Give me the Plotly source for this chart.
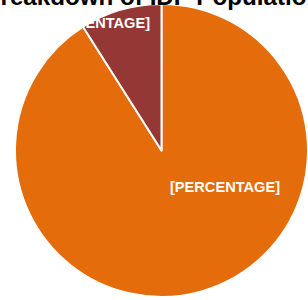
import plotly.graph_objects as go

# Data
categories = ["IDPs outside camps", "IDPs in camps"]
values = [91, 9]
slice_labels = ["[PERCENTAGE]", "[PERCENTAGE]"]
colors = ["#E46C0A", "#953735"]
title_text = "Breakdown of IDP Population"

fig = go.Figure(
    go.Pie(
        labels=categories,
        values=values,
        sort=False,
        direction="clockwise",
        rotation=0,
        marker=dict(colors=colors, line=dict(color="white", width=2)),
        textinfo="none",
        hoverinfo="label+percent",
        domain=dict(x=[0.0487, 1.0], y=[0.01, 0.987]),
    )
)

label_font = dict(family="Liberation Sans, Arial, sans-serif", size=14.6, color="white")
fig.add_annotation(x=225.5 / 308, y=1 - 187 / 300, xref="paper", yref="paper",
                   xanchor="center", yanchor="middle",
                   text="<b>%s</b>" % slice_labels[0], showarrow=False, font=label_font)
fig.add_annotation(x=95 / 308, y=1 - 23 / 300, xref="paper", yref="paper",
                   xanchor="center", yanchor="middle",
                   text="<b>%s</b>" % slice_labels[1], showarrow=False, font=label_font)
# Title (partly cut off at the top, as in the reference)
fig.add_annotation(x=0.495, y=1.013, xref="paper", yref="paper", xanchor="center", yanchor="middle",
                   text="<b>%s</b>" % title_text, showarrow=False,
                   font=dict(family="Liberation Sans, Arial, sans-serif", size=24.2, color="black"))

fig.update_layout(
    width=308,
    height=300,
    margin=dict(l=0, r=0, t=0, b=0),
    showlegend=False,
    paper_bgcolor="white",
)

fig.write_html(
    "out.html",
    config={"displayModeBar": False},
    post_script="document.body.style.margin='0';document.body.style.overflow='hidden';",
)
